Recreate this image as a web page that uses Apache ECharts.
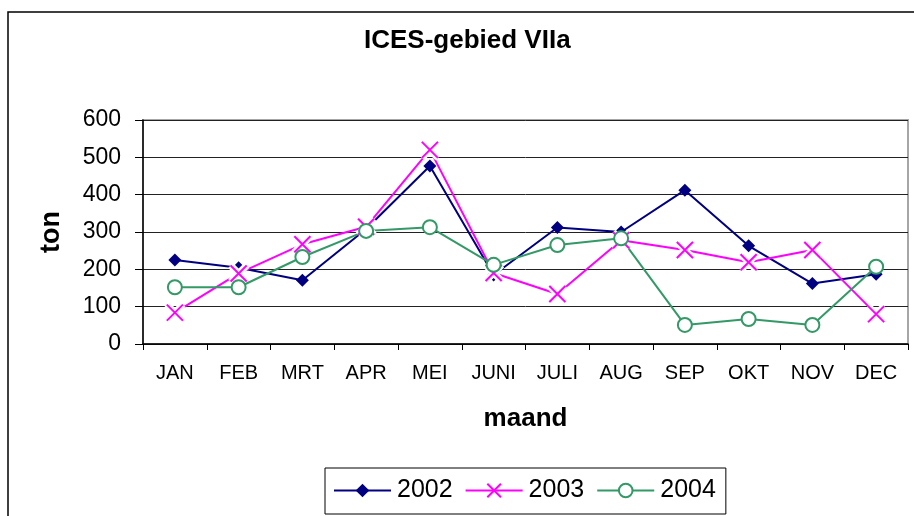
<!DOCTYPE html>
<html>
<head>
<meta charset="utf-8">
<title>ICES-gebied VIIa</title>
<script src="https://cdn.jsdelivr.net/npm/echarts@6/dist/echarts.min.js"></script>
<style>
  html, body { margin: 0; padding: 0; background: #fff; }
  #chart { width: 914px; height: 516px; }
</style>
</head>
<body>
<div id="chart"></div>
<script>
// Monthly landings (ton) per year
const months = ['JAN', 'FEB', 'MRT', 'APR', 'MEI', 'JUNI', 'JULI', 'AUG', 'SEP', 'OKT', 'NOV', 'DEC'];
const y2002 = [225, 204, 171, 308, 477, 185, 312, 300, 412, 263, 162, 187];
const y2003 = [84, 189, 267, 314, 520, 190, 134, 278, 252, 219, 252, 80];
const y2004 = [152, 152, 233, 303, 313, 212, 265, 283, 51, 67, 51, 207];
const yTicks = [0, 100, 200, 300, 400, 500, 600];

const FONT = '"Liberation Sans", Arial, sans-serif';
const CROSS = 'path://M0,0L16,16M16,0L0,16';

const chart = echarts.init(document.getElementById('chart'), null, { renderer: 'canvas' });

chart.setOption({
  animation: false,
  backgroundColor: '#fff',
  textStyle: { fontFamily: FONT, color: '#000' },
  title: {
    text: 'ICES-gebied VIIa',
    left: 364,
    top: 28,
    padding: 0,
    textStyle: { fontFamily: FONT, fontSize: 26, fontWeight: 'bold', color: '#000' }
  },
  graphic: [{
    type: 'rect',
    silent: true,
    z: -1,
    shape: { x: 8, y: 12, width: 1000, height: 600 },
    style: { fill: 'none', stroke: '#000', lineWidth: 1.5 }
  }],
  legend: {
    left: 325,
    top: 468,
    orient: 'horizontal',
    padding: [10, 10, 11, 8],
    borderColor: '#000',
    borderWidth: 1,
    itemWidth: 57,
    itemHeight: 17,
    itemGap: 12,
    data: ['2002', '2003', '2004'],
    textStyle: { fontFamily: FONT, fontSize: 25, color: '#000', padding: [0, 0, 0, 1] }
  },
  grid: {
    left: 143,
    right: 6,
    top: 120,
    bottom: 172,
    show: true,
    borderColor: '#a6a6a6',
    borderWidth: 2,
    backgroundColor: 'transparent'
  },
  xAxis: {
    type: 'category',
    data: months,
    boundaryGap: true,
    name: 'maand',
    nameLocation: 'middle',
    nameGap: 62,
    nameTextStyle: { fontFamily: FONT, fontSize: 26, fontWeight: 'bold', color: '#000' },
    axisLine: { lineStyle: { color: '#000', width: 1.5 } },
    axisTick: { show: true, length: 6, inside: false, lineStyle: { color: '#000', width: 1 } },
    axisLabel: { fontFamily: FONT, fontSize: 20, color: '#000', margin: 19, interval: 0 },
    splitLine: { show: false }
  },
  yAxis: {
    type: 'value',
    min: yTicks[0],
    max: yTicks[yTicks.length - 1],
    interval: 100,
    name: 'ton',
    nameLocation: 'middle',
    nameRotate: 90,
    nameGap: 78,
    nameTextStyle: { fontFamily: FONT, fontSize: 27, fontWeight: 'bold', color: '#000' },
    axisLine: { show: true, lineStyle: { color: '#000', width: 1.5 } },
    axisTick: { show: true, length: 8, inside: false, lineStyle: { color: '#000', width: 1 } },
    axisLabel: { fontFamily: FONT, fontSize: 23, color: '#000', margin: 22 },
    splitLine: { show: true, lineStyle: { color: '#222', width: 1 } }
  },
  series: [
    {
      name: '2002',
      type: 'line',
      data: y2002,
      symbol: 'diamond',
      symbolSize: 13,
      showAllSymbol: true,
      lineStyle: { color: '#000080', width: 2 },
      itemStyle: { color: '#000080', borderWidth: 0 }
    },
    {
      name: '2003',
      type: 'line',
      data: y2003,
      symbol: CROSS,
      symbolSize: 16,
      showAllSymbol: true,
      lineStyle: { color: '#ff00ff', width: 2 },
      itemStyle: { color: '#ff00ff', borderColor: '#ff00ff', borderWidth: 2 }
    },
    {
      // white halo under the crosses, cutting the lines around each marker
      name: '2003-halo',
      type: 'line',
      data: y2003,
      symbol: CROSS,
      symbolSize: 16,
      showAllSymbol: true,
      silent: true,
      legendHoverLink: false,
      lineStyle: { width: 0, opacity: 0 },
      itemStyle: { color: 'none', borderColor: '#fff', borderWidth: 7 }
    },
    {
      name: '2003-marks',
      type: 'line',
      data: y2003,
      symbol: CROSS,
      symbolSize: 16,
      showAllSymbol: true,
      silent: true,
      legendHoverLink: false,
      lineStyle: { width: 0, opacity: 0 },
      itemStyle: { color: 'none', borderColor: '#ff00ff', borderWidth: 2 }
    },
    {
      name: '2004',
      type: 'line',
      data: y2004,
      symbol: 'emptyCircle',
      symbolSize: 14,
      showAllSymbol: true,
      lineStyle: { color: '#339966', width: 2 },
      itemStyle: { color: '#339966', borderColor: '#339966', borderWidth: 2 }
    }
  ]
});
</script>
</body>
</html>
